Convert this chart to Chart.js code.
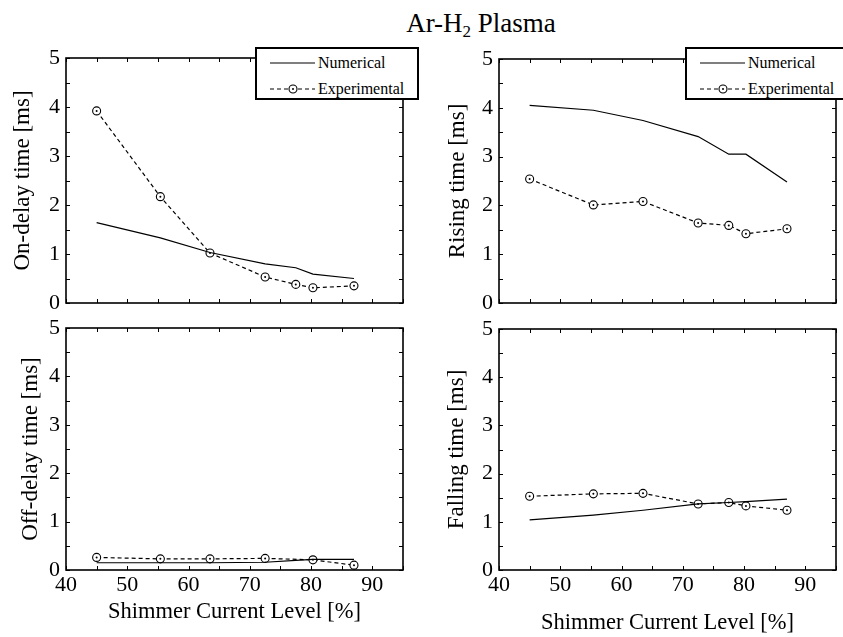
<!DOCTYPE html>
<html><head><meta charset="utf-8">
<script src="https://cdn.jsdelivr.net/npm/chart.js@4"></script>
<style>
html,body{margin:0;padding:0;background:#fff;}
body{width:843px;height:637px;overflow:hidden;position:relative;font-family:"Liberation Serif",serif;color:#000;}
canvas{position:absolute;}
#title{position:absolute;left:481px;top:10px;transform:translateX(-50%);font-size:27px;line-height:26px;white-space:nowrap;}
#title sub{font-size:17px;vertical-align:-5px;line-height:0;}
.legend{position:absolute;box-sizing:border-box;border:2px solid #000;background:#fff;z-index:5;height:53px;}
.legend .row{position:absolute;left:13px;height:20px;white-space:nowrap;font-size:16px;line-height:20px;}
.legend svg{position:absolute;left:0;top:4px;}
.legend span{position:absolute;left:48px;top:0;}
</style>
</head><body>
<div id="title">Ar-H<sub>2</sub> Plasma</div>
<canvas id="c1" width="420" height="330" style="left:0;top:0"></canvas>
<canvas id="c2" width="423" height="330" style="left:420px;top:0"></canvas>
<canvas id="c3" width="420" height="347" style="left:0;top:290px"></canvas>
<canvas id="c4" width="423" height="347" style="left:420px;top:290px"></canvas>
<div class="legend" id="lg1" style="left:255px;top:47px;width:164px"></div>
<div class="legend" id="lg2" style="left:685px;top:47px;width:175px"></div>
<script>
// ---- data ----
const seriesNames = ['Numerical', 'Experimental'];
const xLevels = [45, 55.4, 63.5, 72.5, 77.5, 80.3, 87];
const onDelayNum = [1.64, 1.33, 1.03, 0.80, 0.72, 0.59, 0.50];
const onDelayExp = [3.92, 2.17, 1.02, 0.53, 0.38, 0.31, 0.35];
const risingNum = [4.05, 3.95, 3.74, 3.41, 3.05, 3.05, 2.48];
const risingExp = [2.54, 2.01, 2.08, 1.64, 1.59, 1.42, 1.52];
const offDelayNum = [0.15, 0.15, 0.15, 0.16, 0.20, 0.22, 0.22];
const offDelayExpX = [45, 55.4, 63.5, 72.5, 80.3, 87];
const offDelayExp = [0.26, 0.23, 0.23, 0.24, 0.21, 0.10];
const fallingNum = [1.04, 1.14, 1.24, 1.37, 1.40, 1.42, 1.47];
const fallingExp = [1.53, 1.58, 1.59, 1.37, 1.40, 1.33, 1.24];
const xTickLabels = ['40', '50', '60', '70', '80', '90'];
const yTickLabels = ['0', '1', '2', '3', '4', '5'];
const xTitle = 'Shimmer Current Level [%]';

const FONT = 'Liberation Serif';

const framePlugin = {
  id: 'frame',
  afterDatasetsDraw(chart) {
    const ctx = chart.ctx;
    const meta = chart.getDatasetMeta(1);
    ctx.save();
    ctx.fillStyle = '#000';
    meta.data.forEach(pt => {
      ctx.beginPath(); ctx.arc(pt.x, pt.y, 1, 0, Math.PI * 2); ctx.fill();
    });
    ctx.restore();
  },
  afterDraw(chart) {
    const ctx = chart.ctx, a = chart.chartArea;
    const xs = chart.scales.x, ys = chart.scales.y;
    ctx.save();
    ctx.strokeStyle = '#000';
    ctx.lineWidth = 1;
    const tl = 4;
    ctx.beginPath();
    xs.ticks.forEach(t => {
      const px = Math.round(xs.getPixelForValue(t.value)) + 0.5;
      ctx.moveTo(px, a.bottom); ctx.lineTo(px, a.bottom - tl);
      ctx.moveTo(px, a.top); ctx.lineTo(px, a.top + tl);
    });
    ys.ticks.forEach(t => {
      const py = Math.round(ys.getPixelForValue(t.value)) + 0.5;
      ctx.moveTo(a.left, py); ctx.lineTo(a.left + tl, py);
      ctx.moveTo(a.right, py); ctx.lineTo(a.right - tl, py);
    });
    ctx.stroke();
    ctx.lineWidth = 1.6;
    ctx.strokeRect(a.left, a.top, a.right - a.left, a.bottom - a.top);
    ctx.restore();
  }
};

function pts(xa, ya) { return ya.map((v, i) => ({x: xa[i], y: v})); }

function makePanel(p) {
  const cv = document.getElementById(p.id);
  const W = cv.width, H = cv.height;
  new Chart(cv, {
    type: 'line',
    data: {
      datasets: [
        {label: seriesNames[0], data: pts(xLevels, p.num), borderColor: '#000', borderWidth: 1.2,
         pointRadius: 0, fill: false, tension: 0},
        {label: seriesNames[1], data: pts(p.expX || xLevels, p.exp), borderColor: '#000', borderWidth: 1.2,
         borderDash: [4, 3], pointStyle: 'circle', pointRadius: 4, pointBorderWidth: 1.1,
         pointBackgroundColor: '#fff', pointBorderColor: '#000', fill: false, tension: 0}
      ]
    },
    options: {
      responsive: false, animation: false, devicePixelRatio: 1,
      layout: {padding: {top: p.T, right: W - p.R, left: 0, bottom: 0}},
      plugins: {legend: {display: false}, tooltip: {enabled: false}, title: {display: false}},
      scales: {
        x: {
          type: 'linear', min: 40, max: 95,
          grid: {display: false, drawTicks: false}, border: {display: false},
          afterFit: s => { s.height = H - p.B; },
          ticks: {display: p.showX, stepSize: 5, autoSkip: false, maxRotation: 0, padding: 2,
                  color: '#000', font: {family: FONT, size: 22},
                  callback: v => { const i = xTickLabels.indexOf(String(v)); return i >= 0 ? xTickLabels[i] : ''; }},
          title: {display: p.showX, text: xTitle, color: '#000', font: {family: FONT, size: 22.5},
                  padding: {top: 0, bottom: p.xPad}}
        },
        y: {
          min: 0, max: 5,
          grid: {display: false, drawTicks: false}, border: {display: false},
          afterFit: s => { s.width = p.L; },
          ticks: {stepSize: 0.5, autoSkip: false, padding: 6, color: '#000', font: {family: FONT, size: 22},
                  callback: v => { const i = yTickLabels.indexOf(String(v)); return i >= 0 ? yTickLabels[i] : ''; }},
          title: {display: true, text: p.yTitle, color: '#000', font: {family: FONT, size: 23},
                  padding: {top: p.yPad, bottom: 0}}
        }
      }
    },
    plugins: [framePlugin]
  });
}

function buildLegend(id) {
  const el = document.getElementById(id);
  const samples = [
    '<svg width="45" height="12"><line x1="0" y1="6" x2="45" y2="6" stroke="#000" stroke-width="1.2"/></svg>',
    '<svg width="45" height="12"><line x1="0" y1="6" x2="45" y2="6" stroke="#000" stroke-width="1.2" stroke-dasharray="4 3"/>' +
    '<circle cx="23" cy="6" r="4" fill="#fff" stroke="#000" stroke-width="1.1"/><circle cx="23" cy="6" r="1" fill="#000"/></svg>'
  ];
  const tops = [4, 30];
  seriesNames.forEach((n, i) => {
    const r = document.createElement('div');
    r.className = 'row';
    r.style.top = tops[i] + 'px';
    r.innerHTML = samples[i] + '<span>' + n + '</span>';
    el.appendChild(r);
  });
}

function init() {
  Chart.defaults.font.family = FONT;
  makePanel({id: 'c1', L: 66, T: 58, R: 403, B: 303, showX: false, yTitle: 'On-delay time [ms]', yPad: 9, xPad: 0,
             num: onDelayNum, exp: onDelayExp});
  makePanel({id: 'c2', L: 79, T: 59, R: 416, B: 303, showX: false, yTitle: 'Rising time [ms]', yPad: 24, xPad: 0,
             num: risingNum, exp: risingExp});
  makePanel({id: 'c3', L: 66, T: 38, R: 403, B: 280, showX: true, yTitle: 'Off-delay time [ms]', yPad: 17, xPad: 11,
             num: offDelayNum, exp: offDelayExp, expX: offDelayExpX});
  makePanel({id: 'c4', L: 79, T: 39, R: 416, B: 280, showX: true, yTitle: 'Falling time [ms]', yPad: 23, xPad: 0,
             num: fallingNum, exp: fallingExp});
  buildLegend('lg1');
  buildLegend('lg2');
}

if (document.fonts && document.fonts.load) {
  Promise.all([document.fonts.load("22px 'Liberation Serif'"), document.fonts.load("16px 'Liberation Serif'")])
    .then(init, init);
} else { init(); }
</script>
</body></html>
